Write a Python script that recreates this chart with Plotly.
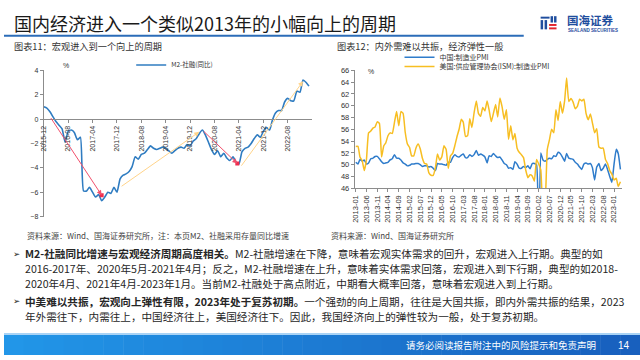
import plotly.graph_objects as go
import pandas as pd

W, H = 640, 360

# ---------------- data ----------------
# Chart 11: M2 - social financing stock growth gap (%), monthly from 2015-12
m2_months = pd.date_range('2015-12-01', periods=88, freq='MS').strftime('%Y-%m-%d').tolist()
m2_sf_gap = [1.0, 0.9, 0.6, 0.2, -0.2, -0.5, -0.8, -1.9, -1.0, -0.9, -1.1, -1.7, -1.5,
             -5.9, -5.9, -5.6, -6.0, -6.4, -6.2, -6.7, -6.4, -6.0, -6.1, -5.6, -6.0,
             -4.9, -4.6, -4.5, -4.3, -3.9, -3.1, -3.3, -2.9, -2.8, -2.5, -2.2, -2.4, -2.5, -2.4, -2.3,
             -2.4, -2.6, -2.8, -2.6, -2.4, -2.3, -2.4, -2.1, -2.2, -1.8, -1.6, -1.2, -0.9,
             -1.3, -1.9, -2.5, -2.9, -2.6, -3.1, -2.8, -3.2, -3.4, -3.1, -3.5, -3.7,
             -2.7, -2.4, -2.3, -2.0, -1.6, -1.3, -1.5, -1.0, -0.7, -0.9, -0.1, 0.5, 0.7, 0.7,
             1.4, 1.7, 1.5, 1.5, 2.3, 2.2, 3.2, 3.0, 2.7]
m2_ticks = ['2015-12-01', '2016-08-01', '2017-04-01', '2017-12-01', '2018-08-01', '2019-04-01',
            '2019-12-01', '2020-08-01', '2021-04-01', '2021-12-01', '2022-08-01']

# Trend arrows on chart 11 (start -> end, data space)
arrow_x0 = ['2016-02-01', '2018-01-01', '2020-04-01', '2021-04-15']
arrow_y0 = [0.2, -5.6, -0.9, -3.95]
arrow_x1 = ['2017-07-01', '2020-03-01', '2021-03-16', '2023-01-01']
arrow_y1 = [-6.25, -1.05, -3.65, 3.1]
arrow_kind = ['down', 'up', 'down', 'up']
turn_x = ['2017-07-01', '2021-03-16']
turn_y = [-6.25, -3.65]

# Chart 12: PMI, monthly from 2013-01 to 2023-04
pmi_months = pd.date_range('2013-01-01', periods=124, freq='MS').strftime('%Y-%m-%d').tolist()
china_pmi = [50.4, 50.1, 50.9, 50.6, 50.8, 50.1, 50.3, 51.0, 51.1, 51.4, 51.4, 51.0,
             50.5, 50.2, 50.3, 50.4, 50.8, 51.0, 51.7, 51.1, 51.1, 50.8, 50.3, 50.1,
             49.8, 49.9, 50.1, 50.1, 50.2, 50.2, 50.0, 49.7, 49.8, 49.8, 49.6, 49.7,
             49.4, 49.0, 50.2, 50.1, 50.1, 50.0, 49.9, 50.4, 50.4, 51.2, 51.7, 51.4,
             51.3, 51.6, 51.8, 51.2, 51.2, 51.7, 51.4, 51.7, 52.4, 51.6, 51.8, 51.6,
             51.3, 50.3, 51.5, 51.4, 51.9, 51.5, 51.2, 51.3, 50.8, 50.2, 50.0, 49.4,
             49.5, 49.2, 50.5, 50.1, 49.4, 49.4, 49.7, 49.5, 49.8, 49.3, 50.2, 50.2,
             50.0, 35.7, 52.0, 50.8, 50.6, 50.9, 51.1, 51.0, 51.5, 51.4, 52.1, 51.9,
             51.3, 50.6, 51.9, 51.1, 51.0, 50.9, 50.4, 50.1, 49.6, 49.2, 50.1, 50.3,
             50.1, 50.2, 49.5, 47.4, 49.6, 50.2, 49.0, 49.4, 50.1, 49.2, 48.0, 47.0,
             50.1, 52.6, 51.9, 49.2]
us_ism_pmi = [53.1, 53.1, 51.3, 50.7, 49.0, 50.9, 55.4, 55.7, 56.2, 56.4, 57.3, 57.0,
              51.3, 53.2, 53.7, 54.9, 55.4, 55.3, 57.1, 59.0, 56.6, 59.0, 58.7, 55.5,
              53.5, 52.9, 51.5, 51.5, 52.8, 53.5, 52.7, 51.1, 50.2, 50.1, 48.6, 48.2,
              48.2, 49.5, 51.8, 50.8, 51.3, 53.2, 52.6, 49.4, 51.5, 51.9, 53.2, 54.7,
              56.0, 57.7, 57.2, 54.8, 54.9, 57.8, 56.3, 58.8, 60.8, 58.7, 58.2, 59.7,
              59.1, 60.8, 59.3, 57.3, 58.7, 60.2, 58.1, 61.3, 59.8, 57.7, 59.3, 54.3,
              56.6, 54.2, 55.3, 52.8, 52.1, 51.7, 51.2, 49.1, 47.8, 48.3, 48.1, 47.2,
              50.9, 50.1, 49.1, 41.5, 43.1, 52.6, 54.2, 56.0, 55.4, 59.3, 57.5, 60.7,
              58.7, 60.8, 64.7, 60.7, 61.2, 60.6, 59.5, 59.9, 61.1, 60.8, 61.1, 58.7,
              57.6, 58.6, 57.1, 55.4, 56.1, 53.0, 52.8, 52.8, 50.9, 50.2, 49.0, 48.4,
              47.4, 47.7, 46.3, 47.1]

# ---------------- texts ----------------
page_title = '国内经济进入一个类似2013年的小幅向上的周期'
title_11 = '图表11：宏观进入到一个向上的周期'
title_12 = '图表12：内外需难以共振，经济弹性一般'
source_11 = '资料来源：Wind、国海证券研究所，注：本页M2、社融采用存量同比增速'
source_12 = '资料来源：Wind、国海证券研究所'
body_lines = [
    '<b>M2-社融同比增速与宏观经济周期高度相关。</b>M2-社融增速在下降，意味着宏观实体需求的回升，宏观进入上行期。典型的如',
    '2016-2017年、2020年5月-2021年4月；反之，M2-社融增速在上升，意味着实体需求回落，宏观进入到下行期，典型的如2018-',
    '2020年4月、2021年4月-2023年1月。当前M2-社融处于高点附近，中期看大概率回落，意味着宏观进入到上行期。',
    '<b>中美难以共振，宏观向上弹性有限，2023年处于复苏初期。</b>一个强劲的向上周期，往往是大国共振，即内外需共振的结果，2023',
    '年外需往下，内需往上，中国经济往上，美国经济往下。因此，我国经济向上的弹性较为一般，处于复苏初期。',
]
footer_text = '请务必阅读报告附注中的风险提示和免责声明'
page_no = '14'

# ---------------- helpers ----------------
def px(x):
    return x / W

def py(y):
    return 1 - y / H

CJK = 'Noto Sans CJK SC, Liberation Sans, sans-serif'
NUM = 'Liberation Sans, Noto Sans CJK SC, sans-serif'

fig = go.Figure()

fig.add_trace(go.Scatter(
    x=m2_months, y=m2_sf_gap, mode='lines', name='M2-社融(同比)',
    line=dict(color='#2F7CC1', width=1.6, shape='spline', smoothing=0.5),
    xaxis='x', yaxis='y', legend='legend', hoverinfo='skip'))
fig.add_trace(go.Scatter(
    x=turn_x, y=turn_y, mode='markers', showlegend=False,
    marker=dict(color='#EE2E4E', size=4, symbol='square'),
    xaxis='x', yaxis='y', hoverinfo='skip'))

fig.add_trace(go.Scatter(
    x=pmi_months, y=china_pmi, mode='lines', name='中国:制造业PMI',
    line=dict(color='#2F7CCB', width=1.5, shape='spline', smoothing=0.4),
    xaxis='x2', yaxis='y2', legend='legend2', hoverinfo='skip'))
fig.add_trace(go.Scatter(
    x=pmi_months, y=us_ism_pmi, mode='lines', name='美国:供应管理协会(ISM):制造业PMI',
    line=dict(color='#F7BE22', width=1.5, shape='spline', smoothing=0.4),
    xaxis='x2', yaxis='y2', legend='legend3', hoverinfo='skip'))

annotations = []
for x0, y0, x1, y1, k in zip(arrow_x0, arrow_y0, arrow_x1, arrow_y1, arrow_kind):
    col = '#F2506C' if k == 'down' else '#FFD48A'
    annotations.append(dict(
        x=x1, y=y1, ax=x0, ay=y0, xref='x', yref='y', axref='x', ayref='y',
        text='', showarrow=True, arrowhead=2, arrowsize=1, arrowwidth=1,
        arrowcolor=col, standoff=0, startstandoff=0))

def txt(x, y, s, size, color='#333333', family=CJK, xanchor='left', yanchor='middle'):
    annotations.append(dict(
        x=px(x), y=py(y), xref='paper', yref='paper', text=s, showarrow=False,
        xanchor=xanchor, yanchor=yanchor, align='left',
        font=dict(size=size, color=color, family=family)))

txt(8, 19, page_title, 18, '#1a1a1a')
txt(8, 43.5, title_11, 9.2, '#333333')
txt(333, 43.5, title_12, 9.2, '#333333')
txt(62, 63, '%', 7, '#333333', NUM, 'center')
txt(369, 69, '%', 7, '#333333', NUM, 'center')
txt(21, 237, source_11, 8, '#444444')
txt(327, 237, source_12, 8, '#444444')

body_y = [256, 271, 287, 305, 320]
for s, y in zip(body_lines, body_y):
    txt(19, y, s, 10.6, '#262626')
txt(7, 256, '➢', 8.5, '#262626', 'DejaVu Sans')
txt(7, 305, '➢', 8.5, '#262626', 'DejaVu Sans')

# logo text
txt(565, 16.5, '<b>国海证券</b>', 11.5, '#1F4E9E')
txt(566, 27.5, '<b>SEALAND SECURITIES</b>', 4.5, '#1F4E9E', NUM)

# footer
txt(598, 350, footer_text, 9.5, '#ffffff', CJK, 'right')
txt(616, 350, page_no, 10, '#ffffff', NUM)

shapes = []
# title rule
shapes.append(dict(type='rect', xref='paper', yref='paper', x0=px(0), x1=px(523),
                   y0=py(33.5), y1=py(31.5), fillcolor='#2B6CB8', line=dict(width=0), layer='above'))
# footer gradient
n = 32
c0 = (34, 150, 232)
c1 = (24, 96, 190)
for i in range(n):
    t = i / (n - 1)
    c = tuple(int(c0[j] + (c1[j] - c0[j]) * t) for j in range(3))
    shapes.append(dict(type='rect', xref='paper', yref='paper',
                       x0=px(W * i / n), x1=px(W * (i + 1) / n + 0.5),
                       y0=py(360), y1=py(339.5),
                       fillcolor='rgb(%d,%d,%d)' % c, line=dict(width=0), layer='below'))
shapes.append(dict(type='rect', xref='paper', yref='paper', x0=0, x1=1,
                   y0=py(339.5), y1=py(337.5), fillcolor='#A9D3F5', line=dict(width=0), layer='below'))
# logo mark
for (a, b, c, d, col) in [(540, 13, 549, 15, '#1F4E9E'), (540, 16.5, 542.5, 26, '#1F4E9E'),
                          (544, 16.5, 546.5, 26, '#1F4E9E'), (550, 12.5, 552.5, 19, '#1F4E9E'),
                          (553.5, 12.5, 556, 19, '#1F4E9E'), (548.5, 20.5, 556, 22.5, '#E2242C'),
                          (548.5, 24, 556, 26, '#E2242C')]:
    shapes.append(dict(type='rect', xref='paper', yref='paper', x0=px(a), x1=px(c),
                       y0=py(d), y1=py(b), fillcolor=col, line=dict(width=0)))

axis_col = '#8c8c8c'
tick_font = dict(size=7, color='#333333', family=NUM)
y_dom1 = [py(218), py(68)]
zero_pos = y_dom1[0] + (0 - (-8)) / 12 * (y_dom1[1] - y_dom1[0])

fig.update_layout(
    width=W, height=H, margin=dict(l=0, r=0, t=0, b=0),
    paper_bgcolor='white', plot_bgcolor='rgba(0,0,0,0)',
    font=dict(family=CJK),
    xaxis=dict(domain=[px(40), px(310)], type='date', range=['2015-12-01', '2023-04-01'],
               tickvals=m2_ticks, tickformat='%Y-%m', tickangle=-90,
               anchor='free', position=zero_pos, showline=True, linecolor=axis_col,
               linewidth=1, ticks='outside', ticklen=3, tickcolor=axis_col,
               showgrid=False, zeroline=False, tickfont=tick_font),
    yaxis=dict(domain=y_dom1, range=[-8, 4], dtick=2, anchor='x', showline=True,
               linecolor=axis_col, linewidth=1, ticks='outside', ticklen=3, tickcolor=axis_col,
               showgrid=False, zeroline=False, tickfont=tick_font),
    xaxis2=dict(domain=[px(353), px(622)], type='date', range=['2012-12-18', '2023-04-25'],
                tick0='2013-01-01', dtick='M5', tickformat='%Y-%m', tickangle=-90,
                anchor='y2', showline=True, linecolor=axis_col, linewidth=1,
                ticks='outside', ticklen=3, tickcolor=axis_col,
                showgrid=False, zeroline=False, tickfont=dict(size=7.5, color='#333333', family=NUM)),
    yaxis2=dict(domain=[py(189), py(68)], range=[46, 66], dtick=2, anchor='x2', showline=True,
                linecolor=axis_col, linewidth=1, ticks='outside', ticklen=3, tickcolor=axis_col,
                showgrid=False, zeroline=False, tickfont=dict(size=7.5, color='#333333', family=NUM)),
    legend=dict(x=px(128), y=py(62.5), xanchor='left', yanchor='middle', bgcolor='rgba(0,0,0,0)',
                font=dict(size=6.5, color='#333333', family=CJK), itemwidth=30),
    legend2=dict(x=px(398), y=py(54.5), xanchor='left', yanchor='middle', bgcolor='rgba(0,0,0,0)',
                 font=dict(size=7, color='#333333', family=CJK), itemwidth=30),
    legend3=dict(x=px(398), y=py(64), xanchor='left', yanchor='middle', bgcolor='rgba(0,0,0,0)',
                 font=dict(size=7, color='#333333', family=CJK), itemwidth=30),
    annotations=annotations,
    shapes=shapes,
)

fig.write_html('out.html', config={'displayModeBar': False},
               post_script="document.body.style.margin='0';document.body.style.overflow='hidden';")
